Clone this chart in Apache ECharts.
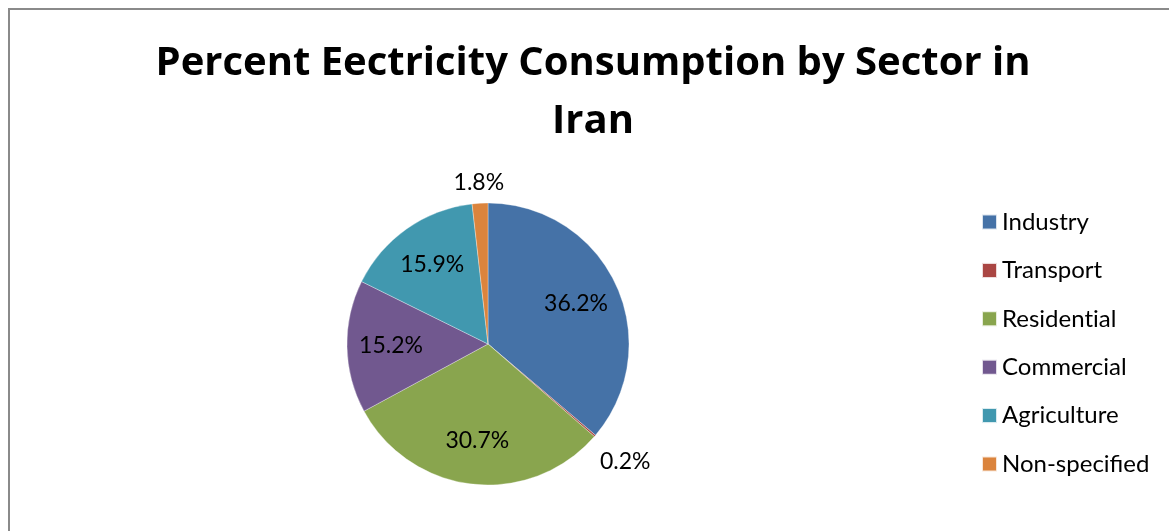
<!DOCTYPE html>
<html>
<head>
<meta charset="utf-8">
<script src="https://cdn.jsdelivr.net/npm/echarts@6/dist/echarts.min.js"></script>
<style>
  html, body { margin: 0; padding: 0; background: #ffffff; overflow: hidden; }
  #frame { position: absolute; left: 8px; top: 8px; width: 1300px; height: 700px;
           border: 2px solid #8a8a8a; box-sizing: border-box; }
  #chart { position: absolute; left: 0; top: 0; width: 1169px; height: 531px; }
</style>
</head>
<body>
<div id="frame"></div>
<div id="chart"></div>
<script>
// Electricity consumption shares by sector (percent)
const sectors = ['Industry', 'Transport', 'Residential', 'Commercial', 'Agriculture', 'Non-specified'];
const shares = [36.2, 0.2, 30.7, 15.2, 15.9, 1.8];
const colors = ['#4572A7', '#AA4643', '#89A54E', '#71588F', '#4198AF', '#DB843D'];

const FONT = 'Lato, "Open Sans", sans-serif';
const TITLE_FONT = '"Open Sans", Lato, sans-serif';
const CENTER = [488, 344];
const R = 141;

// keep "t" and "i" as separate glyphs (Lato would join them)
const noLig = s => s.replace(/ti/g, 't\u200Ci');

const pieData = sectors.map((name, i) => ({ name: name, value: shares[i] }));

// Transparent helper ring that only carries labels
function labelRing(radius, showIndex) {
  return {
    type: 'pie',
    center: CENTER,
    radius: radius,
    startAngle: 90,
    clockwise: true,
    silent: true,
    animation: false,
    itemStyle: { color: 'rgba(0,0,0,0)', borderWidth: 0 },
    emphasis: { disabled: true },
    labelLine: { show: false },
    label: {
      show: true,
      position: 'inside',
      fontFamily: FONT,
      fontSize: 23,
      color: '#000000',
      formatter: p => showIndex(p.dataIndex) ? p.value.toFixed(1) + '%' : ''
    },
    data: pieData
  };
}

const chart = echarts.init(document.getElementById('chart'), null, { renderer: 'canvas' });
chart.setOption({
  backgroundColor: 'transparent',
  animation: false,
  color: colors,
  title: {
    text: 'Percent Eectricity Consumption by Sector in\nIran',
    left: 593,
    top: 35,
    padding: 0,
    textAlign: 'center',
    textStyle: {
      fontFamily: TITLE_FONT,
      fontWeight: 'bold',
      fontSize: 40,
      lineHeight: 58,
      color: '#000000'
    }
  },
  legend: {
    orient: 'vertical',
    left: 981,
    top: 210,
    padding: 0,
    data: sectors,
    icon: 'rect',
    itemWidth: 15,
    itemHeight: 15,
    itemGap: 24.4,
    selectedMode: false,
    formatter: name => noLig(name),
    textStyle: { fontFamily: FONT, fontSize: 24, color: '#000000', lineHeight: 24 }
  },
  series: [
    {
      type: 'pie',
      center: CENTER,
      radius: R,
      startAngle: 90,
      clockwise: true,
      animation: false,
      itemStyle: { borderColor: 'rgba(255,255,255,0.8)', borderWidth: 0.4 },
      label: { show: false },
      labelLine: { show: false },
      emphasis: { disabled: true },
      data: pieData
    },
    labelRing([47, R], i => shares[i] >= 5),
    labelRing([R, R + 36], i => shares[i] < 5 && i === sectors.length - 1),
    labelRing([R, R + 74], i => shares[i] < 5 && i !== sectors.length - 1)
  ]
});
</script>
</body>
</html>
